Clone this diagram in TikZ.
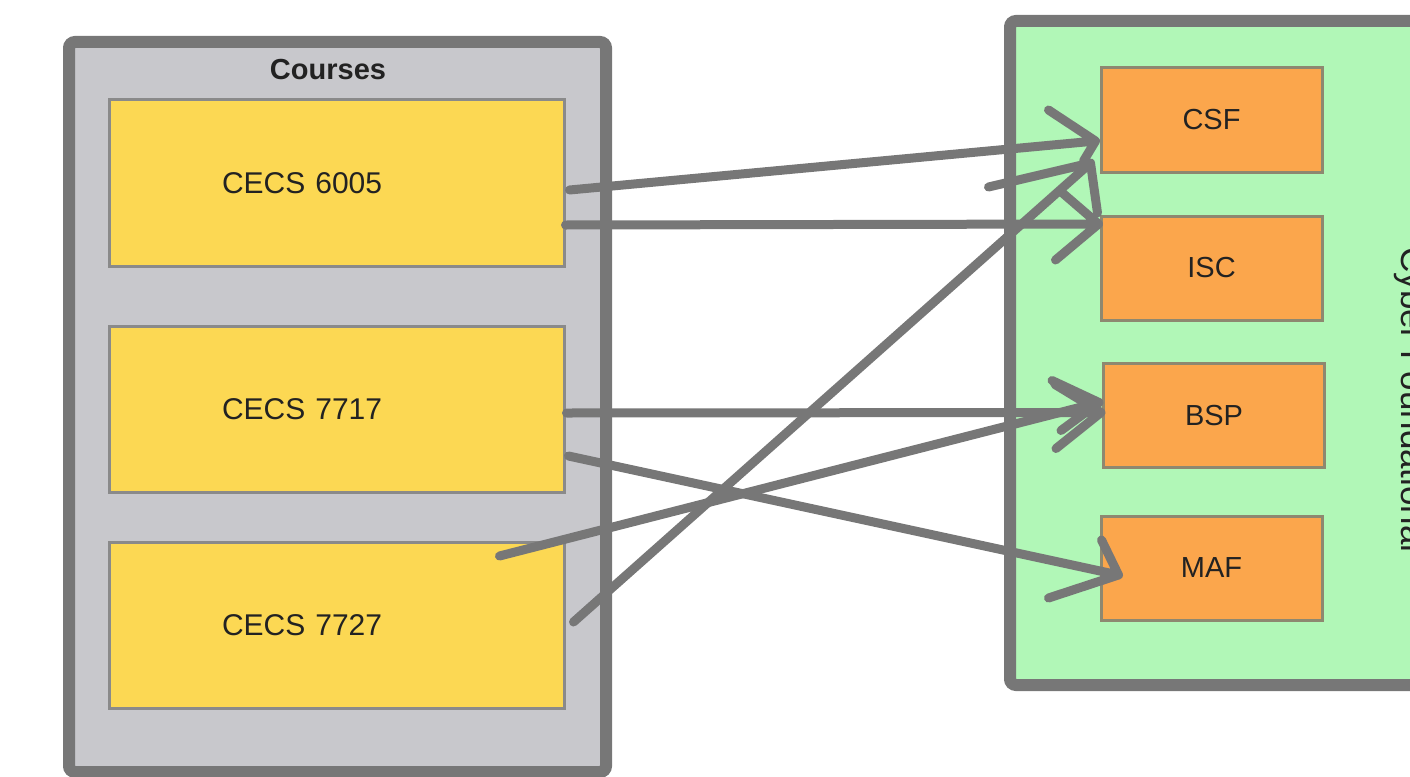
\documentclass[tikz,border=0pt]{standalone}
\usepackage{fontspec}
\setmainfont{Liberation Sans}
\definecolor{framegray}{HTML}{777777}
\definecolor{coursefill}{HTML}{C8C8CC}
\definecolor{yellowfill}{HTML}{FCD853}
\definecolor{greenfill}{HTML}{B1F7B7}
\definecolor{orangefill}{HTML}{FBA64C}
\definecolor{boxedge}{HTML}{8A8A8A}
\definecolor{orangeedge}{HTML}{8E8870}
\definecolor{textdark}{HTML}{222222}
\begin{document}
\begin{tikzpicture}[x=1bp,y=-1bp,
  container/.style={draw=framegray, line width=12bp, rounded corners=6bp},
  coursebox/.style={draw=boxedge, fill=yellowfill, line width=3bp,
    minimum width=454bp, minimum height=166bp, inner sep=0pt, text=textdark,
    text width=230bp, align=left,
    font=\fontsize{30bp}{36bp}\selectfont},
  areabox/.style={draw=orangeedge, fill=orangefill, line width=3bp,
    minimum width=221bp, minimum height=104bp, inner sep=0pt, text=textdark,
    font=\fontsize{29bp}{35bp}\selectfont},
  link/.style={draw=framegray, line width=9bp, line cap=round, line join=round},
  titletext/.style={text=textdark, inner sep=0pt}
]
\useasboundingbox (0,0) rectangle (1410,776);

% containers
\draw[container, fill=coursefill] (69,42) rectangle (606,772);
\draw[container, fill=greenfill] (1010,21) rectangle (1450,685);

\node[titletext, font=\bfseries\fontsize{29bp}{35bp}\selectfont] (courses) at (328,70) {Courses};
\node[titletext, font=\fontsize{35bp}{42bp}\selectfont, rotate=-90, anchor=base] (cyber) at (1401,400) {Cyber Foundational};

% course boxes
\node[coursebox] (c6005) at (337,183) {CECS 6005};
\node[coursebox] (c7717) at (337,409) {CECS 7717};
\node[coursebox] (c7727) at (337,625) {CECS 7727};

% area boxes
\node[areabox] (csf) at (1211.5,120) {CSF};
\node[areabox] (isc) at (1211.5,268) {ISC};
\node[areabox] (bsp) at (1214,415.5) {BSP};
\node[areabox] (maf) at (1211.5,568) {MAF};

% arrow tips (hand-drawn open heads)
\coordinate (t1) at ([shift={(-4,21)}]csf.west);
\coordinate (t2) at ([shift={(-1,-44)}]isc.west);
\coordinate (t3) at ([shift={(-9,43)}]csf.west);
\coordinate (t4) at ([shift={(-1,-3)}]bsp.west);
\coordinate (t5) at ([shift={(-3,-13)}]bsp.west);
\coordinate (t6) at ([shift={(19,7)}]maf.west);

% connectors
\draw[link] ([shift={(4,7)}]c6005.east) -- (t1) -- ++(-47,-31) (t1) -- ++(-12,20);
\draw[link] ([shift={(0,42)}]c6005.east) -- (t2) -- ++(-36,-31) (t2) -- ++(-43,36);
\draw[link] ([shift={(8,-3)}]c7727.east) -- (t3) -- ++(-102,24) (t3) -- ++(7,50);
\draw[link] ([shift={(1,4)}]c7717.east) -- (t4) -- ++(-46,-28) (t4) -- ++(-45,36);
\draw[link] ([shift={(-66,-69)}]c7727.east) -- (t5) -- ++(-47,-22) (t5) -- ++(-38,28);
\draw[link] ([shift={(3,47)}]c7717.east) -- (t6) -- ++(-17,-35) (t6) -- ++(-70,23);
\end{tikzpicture}
\end{document}
